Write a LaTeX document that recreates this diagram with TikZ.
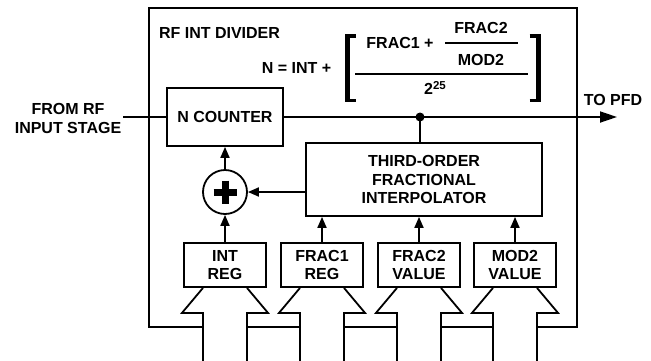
\documentclass[tikz,border=0pt]{standalone}
\usepackage{fontspec}
\setmainfont{Liberation Sans}
\usetikzlibrary{arrows.meta,calc}
\begin{document}
\begin{tikzpicture}[x=1pt,y=-1pt,
  every node/.style={font=\fontsize{16}{18.5}\selectfont\bfseries, inner sep=0pt},
  blk/.style={draw, line width=1.8pt, align=center},
  ln/.style={line width=1.8pt},
  arr/.style={-{Triangle[length=11pt,width=9pt]}},
  bigarr/.style={-{Triangle[length=17pt,width=11pt]}}]
\useasboundingbox (0,0) rectangle (651,360);

% outer frame
\draw[ln] (202,327) -- (149,327) -- (149,8) -- (577,8) -- (577,327) -- (537,327);
\draw[ln] (247,327) -- (300,327);
\draw[ln] (344,327) -- (397,327);
\draw[ln] (441,327) -- (493,327);

% labels
\node (title) at (219.5,33) {RF INT DIVIDER};
\node[align=center] (rftext) at (68,118.5) {FROM RF\\INPUT STAGE};
\node (topfd) at (613,100) {TO PFD};

% formula
\node (neq) at (296.5,68) {N = INT +};
\node (frac1) at (400,43) {FRAC1 +};
\node (frac2) at (481,28) {FRAC2};
\node (mod2) at (481,60) {MOD2};
\node (pow) at (435,88) {2\raisebox{5.5pt}{\fontsize{11.5}{12}\selectfont 25}};
\draw[line width=2pt] (445,43) -- (518,43);
\draw[line width=2pt] (355,74) -- (528,74);
\draw[line width=5pt] (347.5,34) -- (347.5,102);
\draw[line width=3.5pt] (345,35.75) -- (355.5,35.75);
\draw[line width=3.5pt] (345,100.25) -- (355.5,100.25);
\draw[line width=5pt] (538,34) -- (538,102);
\draw[line width=3.5pt] (529.5,35.75) -- (540.5,35.75);
\draw[line width=3.5pt] (529.5,100.25) -- (540.5,100.25);

% blocks
\node[blk, minimum width=116pt, minimum height=58pt] (ncount) at (225,117) {N COUNTER};
\node[blk, minimum width=236pt, minimum height=73pt] (interp) at (424,179.5) {THIRD-ORDER\\FRACTIONAL\\INTERPOLATOR};
\node[draw, circle, line width=1.8pt, minimum size=44pt] (adder) at (225,192) {};
\draw[line width=7pt] ($(adder.center)+(-11.5,0)$) -- ($(adder.center)+(11.5,0)$);
\draw[line width=7pt] ($(adder.center)+(0,-11.5)$) -- ($(adder.center)+(0,11.5)$);

\node[blk, minimum width=82pt, minimum height=44pt] (intreg) at (225,265) {INT\\REG};
\node[blk, minimum width=82pt, minimum height=44pt] (frac1reg) at (322,265) {FRAC1\\REG};
\node[blk, minimum width=82pt, minimum height=44pt] (frac2reg) at (419,265) {FRAC2\\VALUE};
\node[blk, minimum width=82pt, minimum height=44pt] (mod2reg) at (515,265) {MOD2\\VALUE};

% main signal line
\coordinate (pfd) at (617,117);
\coordinate (dot) at (420,117);
\draw[ln] ($(rftext.east |- ncount.west)+(2,0)$) -- (ncount.west);
\draw[ln,bigarr] (ncount.east) -- (pfd);
\fill (dot) circle (4.5pt);
\draw[ln] (dot) -- (dot |- interp.north);

% arrows
\draw[ln,arr] (intreg.north) -- (adder.south);
\draw[ln,arr] (adder.north) -- (ncount.south);
\draw[ln,arr] (interp.west |- adder) -- (adder.east);
\draw[ln,arr] (frac1reg.north) -- (frac1reg.north |- interp.south);
\draw[ln,arr] (frac2reg.north) -- (frac2reg.north |- interp.south);
\draw[ln,arr] (mod2reg.north) -- (mod2reg.north |- interp.south);

% bus arrows
\foreach \r in {intreg,frac1reg,frac2reg,mod2reg}{
  \draw[ln] ($(\r.south)+(-22,73)$) -- ($(\r.south)+(-22,25)$) -- ($(\r.south)+(-43,25)$) -- ($(\r.south)+(-22,0)$);
  \draw[ln] ($(\r.south)+(22,73)$) -- ($(\r.south)+(22,25)$) -- ($(\r.south)+(43,25)$) -- ($(\r.south)+(22,0)$);
}
\end{tikzpicture}
\end{document}
